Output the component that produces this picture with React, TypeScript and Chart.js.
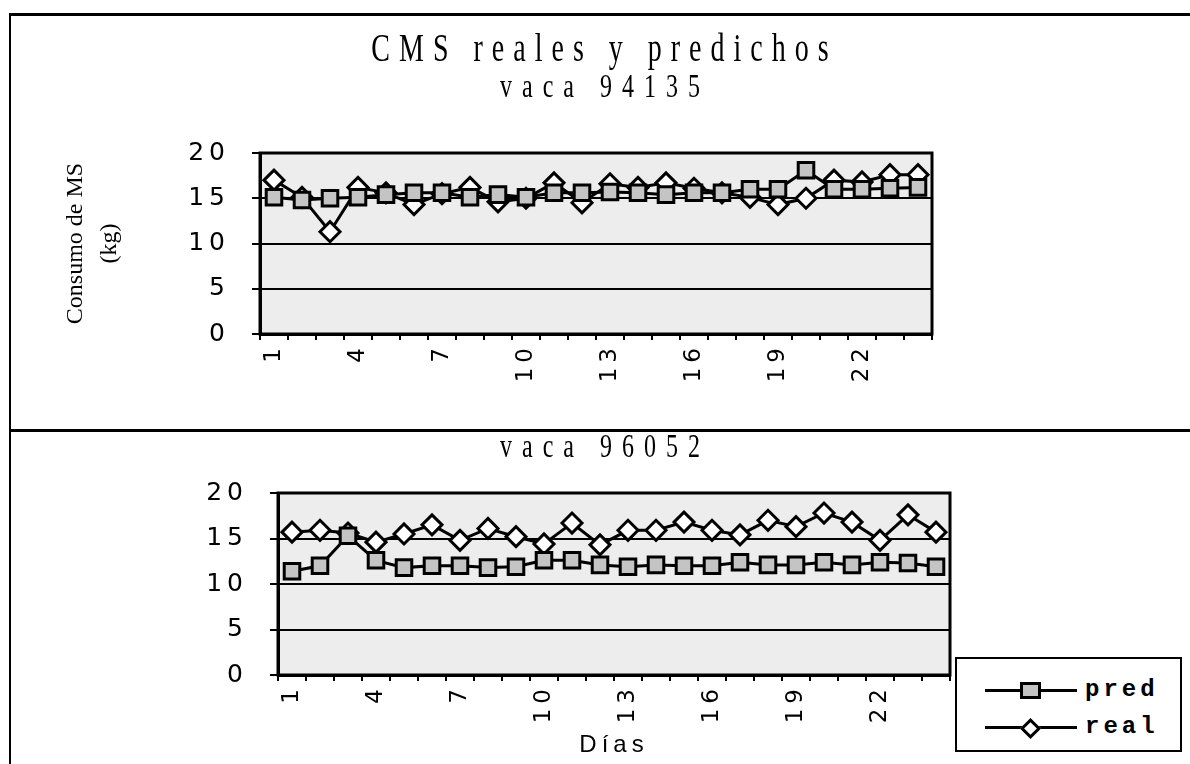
import React, { useEffect, useRef } from 'react';
import { Chart, registerables } from 'chart.js';

Chart.register(...registerables);

// ---------- data ----------
const DAYS = ['1', '2', '3', '4', '5', '6', '7', '8', '9', '10', '11', '12', '13', '14', '15', '16', '17', '18', '19', '20', '21', '22', '23', '24'];

const PRED_94135 = [15.1, 14.8, 15.0, 15.1, 15.4, 15.6, 15.6, 15.1, 15.4, 15.1, 15.6, 15.6, 15.7, 15.6, 15.4, 15.6, 15.6, 16.0, 16.0, 18.1, 16.0, 16.0, 16.1, 16.2];
const REAL_94135 = [17.0, 15.1, 11.3, 16.2, 15.6, 14.3, 15.5, 16.2, 14.6, 15.0, 16.7, 14.5, 16.6, 16.2, 16.7, 16.1, 15.6, 15.1, 14.3, 15.0, 17.0, 16.8, 17.6, 17.6];

const PRED_96052 = [11.4, 12.0, 15.3, 12.6, 11.8, 12.0, 12.0, 11.8, 11.9, 12.6, 12.6, 12.1, 11.9, 12.1, 12.0, 12.0, 12.4, 12.1, 12.1, 12.4, 12.1, 12.4, 12.3, 11.9];
const REAL_96052 = [15.7, 15.9, 15.6, 14.6, 15.5, 16.5, 14.8, 16.1, 15.2, 14.4, 16.7, 14.3, 15.9, 15.9, 16.8, 15.9, 15.4, 17.0, 16.3, 17.8, 16.8, 14.8, 17.6, 15.7];

const Y_MIN = 0;
const Y_MAX = 20;
const Y_STEP = 5;
const X_LABEL_EVERY = 3;

const SERIES_NAMES = ['pred', 'real'];
const MAIN_TITLE = 'CMS reales y predichos';
const SUBTITLE_TOP = 'vaca 94135';
const SUBTITLE_BOTTOM = 'vaca 96052';
const Y_TITLE = ['Consumo de MS', '(kg)'];
const X_TITLE = 'Días';

// ---------- plugins ----------
const plotFrame = {
  id: 'plotFrame',
  beforeDraw(chart: any) {
    const { ctx, chartArea: a } = chart;
    ctx.save();
    ctx.fillStyle = '#ededed';
    ctx.fillRect(a.left, a.top, a.width, a.height);
    ctx.restore();
  },
  beforeDatasetsDraw(chart: any) {
    const { ctx, chartArea: a } = chart;
    ctx.save();
    ctx.strokeStyle = '#000';
    ctx.lineWidth = 3;
    ctx.strokeRect(a.left, a.top, a.width, a.height);
    ctx.restore();
  },
};

const spacing = {
  id: 'spacing',
  beforeDraw(chart: any, _a: any, o: any) {
    (chart.ctx as any).letterSpacing = (o && o.base) || '0px';
  },
  afterDatasetsDraw(chart: any, _a: any, o: any) {
    (chart.ctx as any).letterSpacing = (o && o.ticks) || '0px';
  },
  afterDraw(chart: any) {
    (chart.ctx as any).letterSpacing = '0px';
  },
};

type Cfg = {
  pred: number[];
  real: number[];
  axisWidth: number;
  xAxisHeight: number;
  padTop: number;
  padRight: number;
  yTitle?: string[];
  xTitle?: string;
  baseSpacing: string;
};

function makeConfig(c: Cfg): any {
  return {
    type: 'line',
    data: {
      labels: DAYS,
      datasets: [
        {
          label: SERIES_NAMES[0],
          data: c.pred,
          borderColor: '#000',
          borderWidth: 3,
          pointStyle: 'rect',
          pointRadius: 11,
          pointBackgroundColor: '#c4c4c4',
          pointBorderColor: '#000',
          pointBorderWidth: 3,
          tension: 0,
        },
        {
          label: SERIES_NAMES[1],
          data: c.real,
          borderColor: '#000',
          borderWidth: 3,
          pointStyle: 'rectRot',
          pointRadius: 10,
          pointBackgroundColor: '#ffffff',
          pointBorderColor: '#000',
          pointBorderWidth: 3,
          tension: 0,
        },
      ],
    },
    options: {
      responsive: false,
      animation: false,
      events: [],
      layout: { padding: { top: c.padTop, right: c.padRight, bottom: 0, left: 0 } },
      plugins: {
        legend: { display: false },
        tooltip: { enabled: false },
        title: { display: false },
        spacing: { base: c.baseSpacing, ticks: '5px' },
      },
      scales: {
        x: {
          type: 'category',
          offset: true,
          grid: {
            offset: true,
            drawOnChartArea: false,
            drawTicks: true,
            tickLength: 6,
            color: '#000',
            lineWidth: 2,
          },
          border: { color: '#000', width: 3 },
          ticks: {
            autoSkip: false,
            minRotation: 90,
            maxRotation: 90,
            padding: 3,
            color: '#000',
            z: 1,
            font: { family: 'DejaVu Sans', size: 23 },
            callback: (_v: any, i: number) => (i % X_LABEL_EVERY === 0 ? DAYS[i] : ''),
          },
          title: c.xTitle
            ? {
                display: true,
                text: c.xTitle,
                color: '#000',
                font: { family: 'Liberation Sans', size: 24 },
                padding: { top: 0, bottom: 4 },
              }
            : { display: false },
          afterFit: (s: any) => {
            s.height = c.xAxisHeight;
          },
        },
        y: {
          min: Y_MIN,
          max: Y_MAX,
          ticks: {
            stepSize: Y_STEP,
            padding: 22,
            color: '#000',
            z: 1,
            font: { family: 'DejaVu Sans', size: 25 },
          },
          grid: { color: '#000', lineWidth: 2, tickLength: 8 },
          border: { color: '#000', width: 3 },
          title: c.yTitle
            ? {
                display: true,
                text: c.yTitle,
                color: '#000',
                font: { family: 'Liberation Serif', size: 24, lineHeight: 1.45 },
                padding: { top: 58, bottom: 0 },
              }
            : { display: false },
          afterFit: (s: any) => {
            s.width = c.axisWidth;
          },
        },
      },
    },
    plugins: [plotFrame, spacing],
  };
}

function ChartCanvas({ cfg, top, height }: { cfg: Cfg; top: number; height: number }) {
  const ref = useRef<HTMLCanvasElement | null>(null);
  useEffect(() => {
    if (!ref.current) return;
    const chart = new Chart(ref.current, makeConfig(cfg));
    return () => chart.destroy();
  }, []);
  return (
    <canvas
      ref={ref}
      width={1190}
      height={height}
      style={{ position: 'absolute', left: 0, top, width: 1190, height }}
    />
  );
}

const titleStyle = (top: number, size: number, spacingPx: number): React.CSSProperties => ({
  position: 'absolute',
  left: 5 + spacingPx / 2,
  width: 1190,
  top,
  textAlign: 'center',
  fontFamily: 'Liberation Serif',
  fontSize: size,
  lineHeight: `${size}px`,
  letterSpacing: spacingPx,
  color: '#000',
  transform: 'scaleY(1.4)',
  transformOrigin: '50% 84%',
  whiteSpace: 'nowrap',
});

function LegendRow({ name, marker, top }: { name: string; marker: 'square' | 'diamond'; top: number }) {
  return (
    <div style={{ position: 'absolute', left: 0, top, width: 223, height: 30 }}>
      <div style={{ position: 'absolute', left: 28, top: 14, width: 92, height: 3, background: '#000' }} />
      {marker === 'square' ? (
        <div
          style={{
            position: 'absolute',
            left: 63,
            top: 7,
            width: 15,
            height: 11,
            border: '3px solid #000',
            background: '#c4c4c4',
          }}
        />
      ) : (
        <div
          style={{
            position: 'absolute',
            left: 66,
            top: 9,
            width: 9,
            height: 9,
            border: '3px solid #000',
            background: '#fff',
            transform: 'rotate(45deg)',
          }}
        />
      )}
      <div
        style={{
          position: 'absolute',
          left: 128,
          top: 0,
          fontFamily: 'Liberation Mono',
          fontWeight: 'bold',
          fontSize: 24,
          lineHeight: '30px',
          letterSpacing: 4,
          color: '#000',
        }}
      >
        {name}
      </div>
    </div>
  );
}

export default function App() {
  const topCfg: Cfg = {
    pred: PRED_94135,
    real: REAL_94135,
    axisWidth: 260,
    xAxisHeight: 96,
    padTop: 153,
    padRight: 1190 - 932,
    yTitle: Y_TITLE,
    baseSpacing: '0px',
  };
  const bottomCfg: Cfg = {
    pred: PRED_96052,
    real: REAL_96052,
    axisWidth: 278,
    xAxisHeight: 89,
    padTop: 63,
    padRight: 1190 - 950,
    xTitle: X_TITLE,
    baseSpacing: '5px',
  };
  return (
    <div
      style={{
        position: 'absolute',
        left: 0,
        top: 0,
        width: 1190,
        height: 764,
        overflow: 'hidden',
        background: '#fff',
      }}
    >
      <ChartCanvas cfg={topCfg} top={0} height={430} />
      <ChartCanvas cfg={bottomCfg} top={430} height={334} />

      {/* panel frame lines */}
      <div style={{ position: 'absolute', left: 9, top: 13, width: 1181, height: 3, background: '#000' }} />
      <div style={{ position: 'absolute', left: 9, top: 13, width: 2, height: 751, background: '#000' }} />
      <div style={{ position: 'absolute', left: 9, top: 429, width: 1181, height: 3, background: '#000' }} />

      {/* titles */}
      <div style={titleStyle(38, 28, 9)}>{MAIN_TITLE}</div>
      <div style={titleStyle(77, 24, 10)}>{SUBTITLE_TOP}</div>
      <div style={titleStyle(437, 24, 10)}>{SUBTITLE_BOTTOM}</div>

      {/* legend */}
      <div
        style={{
          position: 'absolute',
          left: 955,
          top: 657,
          width: 223,
          height: 91,
          border: '2px solid #000',
          background: '#fff',
        }}
      >
        <LegendRow name={SERIES_NAMES[0]} marker="square" top={16} />
        <LegendRow name={SERIES_NAMES[1]} marker="diamond" top={53} />
      </div>
    </div>
  );
}
